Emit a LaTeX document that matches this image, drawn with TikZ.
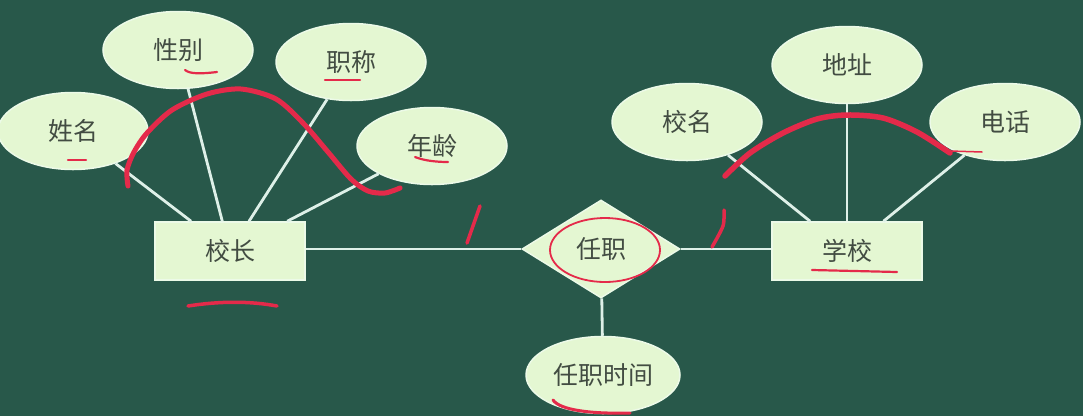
\documentclass[tikz,border=0pt]{standalone}
\usepackage{fontspec}
\newfontfamily\cjk{Noto Sans CJK SC}
\usetikzlibrary{shapes.geometric}
\definecolor{board}{RGB}{40,88,74}
\definecolor{boxfill}{RGB}{228,247,210}
\definecolor{boxedge}{RGB}{236,250,232}
\definecolor{linecol}{RGB}{222,240,232}
\definecolor{txt}{RGB}{66,76,66}
\definecolor{mark}{RGB}{228,42,74}
\tikzset{
  attr/.style={ellipse, fill=boxfill, draw=boxedge, line width=1.5pt, inner sep=0pt,
    minimum width=150pt, minimum height=77pt, text=txt, font=\cjk\fontsize{25}{25}\selectfont},
  ent/.style={rectangle, fill=boxfill, draw=boxedge, line width=1.5pt, inner sep=0pt,
    minimum width=150pt, minimum height=58pt, text=txt, font=\cjk\fontsize{25}{25}\selectfont},
  rel/.style={diamond, fill=boxfill, draw=boxedge, line width=1.5pt, inner sep=0pt,
    minimum width=158pt, minimum height=98pt, text=txt, font=\cjk\fontsize{25}{25}\selectfont},
  conn/.style={draw=linecol, line width=2.8pt},
  redmark/.style={draw=mark, line width=4.5pt, line cap=round, line join=round},
  thinmark/.style={draw=mark, line width=2.2pt, line cap=round, line join=round}
}
\begin{document}
\begin{tikzpicture}[x=1pt,y=-1pt]
\fill[board] (0,0) rectangle (1083,416);
\useasboundingbox (0,0) rectangle (1083,416);
% entities and relationship
\node[ent] (xz) at (230,251) {校长};
\node[ent] (xx) at (847,251) {学校};
\node[rel] (rz) at (601,249) {任职};
% attributes
\node[attr] (xm) at (73,131) {姓名};
\node[attr] (xb) at (178,50) {性别};
\node[attr] (zc) at (351,62) {职称};
\node[attr] (nl) at (432,146) {年龄};
\node[attr] (xiaom) at (687,122) {校名};
\node[attr] (dz) at (847,65) {地址};
\node[attr] (dh) at (1005,122) {电话};
\node[attr, minimum width=154pt] (rzsj) at (603,375) {任职时间};
% connectors
\draw[conn] (xm) -- (xz);
\draw[conn] (xb) -- (xz);
\draw[conn] (zc) -- (xz);
\draw[conn] (nl) -- (xz);
\draw[conn] (xiaom) -- (xx);
\draw[conn] (dz) -- (xx);
\draw[conn] (dh) -- (xx);
\draw[conn] (xz.east |- rz.west) -- (rz.west);
\draw[conn] (rz.east) -- (xx.west |- rz.east);
\draw[conn] (rz) -- (rzsj);
% red hand annotations
\draw[redmark, line width=5pt] plot[smooth] coordinates {(128,186) (127,170) (134,152) (147,133) (172,110) (207,94) (241,89) (276,99) (303,123) (328,152) (351,179) (368,191) (385,193) (400,188)};
\draw[redmark, line width=5.5pt] plot[smooth] coordinates {(725,176) (750,153) (783,133) (817,119) (847,115) (883,118) (917,132) (950,153)};
\draw[thinmark, line width=1.5pt] (950,151) -- (982,152);
\draw[redmark, line width=3.5pt] (480,206) -- (467,243);
\draw[redmark, line width=3.5pt] plot[smooth] coordinates {(724,210) (723,226) (712,247)};
\draw[thinmark, line width=3.5pt] (188,306) .. controls (220,301) and (250,301) .. (277,306);
\draw[thinmark, line width=1.8pt] (605,250) ellipse [x radius=55, y radius=32];
\draw[thinmark] (185,70) .. controls (190,74) and (200,74) .. (217,72);
\draw[thinmark] (325,80) -- (360,80);
\draw[thinmark] (68,160) -- (86,160);
\draw[thinmark] (415,157) .. controls (425,161) and (438,162) .. (448,162);
\draw[thinmark] (812,270) -- (897,272);
\draw[thinmark, line width=3pt] (553,400) .. controls (560,410) and (590,414) .. (630,413);
\end{tikzpicture}
\end{document}
